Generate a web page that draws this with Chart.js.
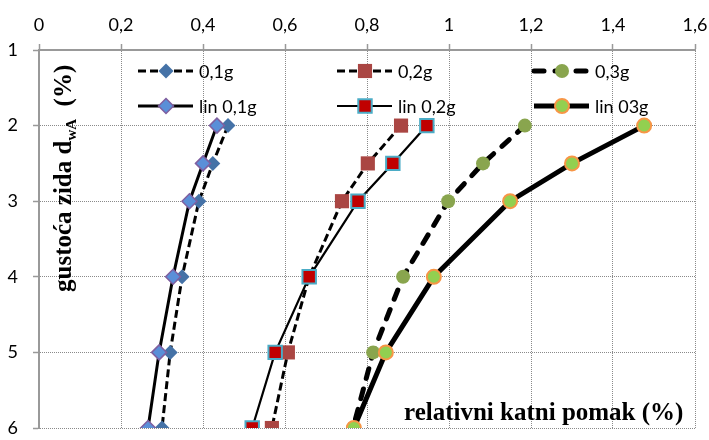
<!DOCTYPE html>
<html>
<head>
<meta charset="utf-8">
<title>gustoća zida - relativni katni pomak</title>
<script src="https://cdn.jsdelivr.net/npm/chart.js@4"></script>
<style>
  body { margin: 0; background: #fff; }
  #graf { display: block; }
</style>
</head>
<body>
<canvas id="graf" width="709" height="440"></canvas>
<script>
// gustoca zida dwA (%) - y os, obrnuta
const gustoca = [2, 2.5, 3, 4, 5, 6];
// relativni katni pomak (%) za svaku seriju
const pomak01 = [0.461, 0.424, 0.390, 0.349, 0.320, 0.300];
const lin01 = [0.434, 0.400, 0.367, 0.327, 0.293, 0.266];
const pomak02 = [0.883, 0.802, 0.739, 0.659, 0.607, 0.568];
const lin02 = [0.946, 0.863, 0.778, 0.659, 0.576, 0.520];
const pomak03 = [1.185, 1.083, 0.998, 0.888, 0.815, 0.766];
const lin03 = [1.476, 1.300, 1.149, 0.963, 0.846, 0.768];
const oznake = ['0,1g', 'lin 0,1g', '0,2g', 'lin 0,2g', '0,3g', 'lin 03g'];

const tocke = (xs) => xs.map((x, i) => ({ x: x, y: gustoca[i] }));

const serija = (label, xs, opts) => Object.assign({
    label: label,
    data: tocke(xs),
    showLine: true,
    borderColor: '#000',
    borderWidth: 3,
    pointBorderWidth: 0,
    pointBorderColor: 'rgba(0,0,0,0)'
}, opts);

const datasets = [
    serija(oznake[0], pomak01, { borderDash: [8, 4], pointStyle: 'rectRot', pointRadius: 7.5, pointBackgroundColor: '#4572A7', order: 6 }),
    serija(oznake[1], lin01, { pointStyle: 'rectRot', pointRadius: 7.5, pointBackgroundColor: '#5A8FD8', pointBorderColor: '#7F5FA0', pointBorderWidth: 1.5, order: 5 }),
    serija(oznake[2], pomak02, { borderDash: [8, 4], pointStyle: 'rect', pointRadius: 10, pointBackgroundColor: '#AA4643', order: 4 }),
    serija(oznake[3], lin02, { borderWidth: 2.2, pointStyle: 'rect', pointRadius: 9.5, pointBackgroundColor: '#C00000', pointBorderColor: '#4BACC6', pointBorderWidth: 2, order: 3 }),
    serija(oznake[4], pomak03, { borderWidth: 5, borderDash: [10, 11], borderCapStyle: 'round', pointStyle: 'circle', pointRadius: 7, pointBackgroundColor: '#89A54E', order: 2 }),
    serija(oznake[5], lin03, { borderWidth: 5, pointStyle: 'circle', pointRadius: 7, pointBackgroundColor: '#92D050', pointBorderColor: '#F79646', pointBorderWidth: 2, order: 1 })
];

// legenda i naslovi osi crtaju se unutar podrucja grafa
const legendaX = [138, 337, 534];
const legendaY = [71, 106];

const crtajTocku = (ctx, ds, x, y) => {
    ctx.fillStyle = ds.pointBackgroundColor;
    ctx.strokeStyle = ds.pointBorderColor;
    ctx.lineWidth = ds.pointBorderWidth;
    if (Chart.helpers && Chart.helpers.drawPoint) {
        Chart.helpers.drawPoint(ctx, { pointStyle: ds.pointStyle, radius: ds.pointRadius, borderWidth: ds.pointBorderWidth, rotation: 0 }, x, y);
        return;
    }
    ctx.beginPath();
    const r = ds.pointRadius;
    if (ds.pointStyle === 'circle') {
        ctx.arc(x, y, r, 0, Math.PI * 2);
    } else if (ds.pointStyle === 'rect') {
        const s = r * Math.SQRT1_2;
        ctx.rect(x - s, y - s, 2 * s, 2 * s);
    } else {
        ctx.moveTo(x, y - r); ctx.lineTo(x + r, y); ctx.lineTo(x, y + r); ctx.lineTo(x - r, y); ctx.closePath();
    }
    ctx.fill();
    if (ds.pointBorderWidth > 0) ctx.stroke();
};

const dodaci = {
    id: 'dodaci',
    afterDraw(chart) {
        const ctx = chart.ctx;
        chart.data.datasets.forEach((ds, i) => {
            const x0 = legendaX[Math.floor(i / 2)];
            const y = legendaY[i % 2];
            ctx.save();
            ctx.strokeStyle = ds.borderColor;
            ctx.lineWidth = ds.borderWidth;
            ctx.setLineDash(ds.borderDash || []);
            ctx.lineCap = ds.borderCapStyle || 'butt';
            ctx.beginPath();
            ctx.moveTo(x0, y);
            ctx.lineTo(x0 + 55, y);
            ctx.stroke();
            ctx.setLineDash([]);
            crtajTocku(ctx, ds, x0 + 28, y);
            ctx.fillStyle = '#000';
            ctx.font = '18px Lato';
            ctx.textBaseline = 'middle';
            ctx.fillText(ds.label, x0 + 61, y + 1);
            ctx.restore();
        });

        // naslov y osi
        ctx.save();
        ctx.fillStyle = '#000';
        ctx.translate(71, 292);
        ctx.rotate(-Math.PI / 2);
        ctx.textBaseline = 'alphabetic';
        ctx.font = 'bold 25px "Liberation Serif"';
        ctx.fillText('gustoća zida d', 0, 0);
        let w = ctx.measureText('gustoća zida d').width;
        ctx.font = 'bold 15px "Liberation Serif"';
        ctx.fillText('wA', w, 5);
        w += ctx.measureText('wA').width;
        ctx.font = 'bold 25px "Liberation Serif"';
        ctx.fillText('  (%)', w, 0);
        ctx.restore();

        // naslov x osi
        ctx.save();
        ctx.fillStyle = '#000';
        ctx.font = 'bold 25px "Liberation Serif"';
        ctx.textBaseline = 'alphabetic';
        ctx.fillText('relativni katni pomak (%)', 404, 420);
        ctx.restore();
    }
};

const fontOsi = { family: 'Lato', size: 18 };

new Chart(document.getElementById('graf').getContext('2d'), {
    type: 'scatter',
    data: { datasets: datasets },
    options: {
        responsive: false,
        animation: false,
        layout: { padding: { left: 0, top: 0, right: 14, bottom: 12 } },
        plugins: {
            legend: { display: false },
            tooltip: { enabled: false }
        },
        scales: {
            x: {
                position: 'top',
                min: 0,
                max: 1.6,
                ticks: {
                    stepSize: 0.2,
                    color: '#000',
                    font: fontOsi,
                    padding: 8,
                    callback: (v) => String(Math.round(v * 10) / 10).replace('.', ',')
                },
                grid: { color: '#8a8a8a', lineWidth: 1, tickLength: 6, tickColor: '#999', tickWidth: 1.5 },
                border: { color: '#999', width: 2, dash: [1, 1] },
                afterFit: (s) => { s.height = 50; s.paddingLeft = 0; s.paddingRight = 0; }
            },
            y: {
                reverse: true,
                min: 1,
                max: 6,
                ticks: {
                    stepSize: 1,
                    color: '#000',
                    font: fontOsi,
                    padding: 15
                },
                grid: { color: '#8a8a8a', lineWidth: 1, tickLength: 6, tickColor: '#999', tickWidth: 1.5 },
                border: { color: '#999', width: 2, dash: [1, 1] },
                afterFit: (s) => { s.width = 39; s.paddingTop = 0; s.paddingBottom = 0; }
            }
        }
    },
    plugins: [dodaci]
});
</script>
</body>
</html>
